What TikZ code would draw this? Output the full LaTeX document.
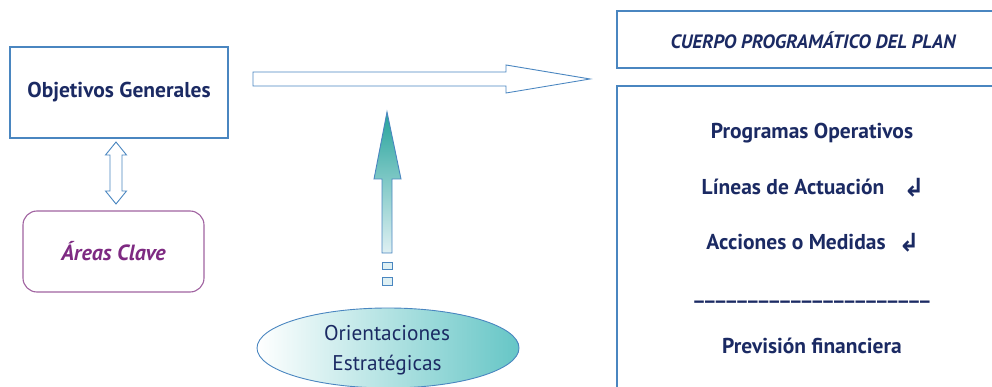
\documentclass[tikz,border=0pt]{standalone}
\usepackage{fontspec}
\setmainfont{PT Sans}
\newfontfamily\symfont{DejaVu Sans}
\usetikzlibrary{shapes.geometric,calc}
\definecolor{navy}{HTML}{1B2A63}
\definecolor{boxblue}{HTML}{4A86C0}
\definecolor{purp}{HTML}{A062A0}
\definecolor{purptext}{HTML}{7E2A82}
\definecolor{tealdark}{HTML}{25A39B}
\definecolor{teallight}{HTML}{DFF0F3}
\definecolor{ellteal}{HTML}{66C6C6}
\newcommand{\us}{\_\kern1.2pt}
\begin{document}
\begin{tikzpicture}[x=1pt,y=-1pt,
  outl/.style={draw=boxblue,line width=1.1pt},
  bigtxt/.style={text=navy,font=\fontsize{21.5}{25}\selectfont\bfseries,inner sep=0pt},
  arrowsym/.style={text=navy,font=\symfont\fontsize{25}{28}\selectfont\bfseries,inner sep=0pt}]
\useasboundingbox (0,0) rectangle (992,387);
% left boxes
\node[outl,minimum width=218pt,minimum height=91pt,inner sep=0pt] (obj) at (119,92.5) {};
\node[bigtxt] (objt) at (obj.center) {Objetivos Generales};
\node[draw=purp,line width=1.1pt,rounded corners=14pt,minimum width=181pt,minimum height=81pt,inner sep=0pt] (areas) at (113.5,251.5) {};
\node[text=purptext,font=\fontsize{22}{25}\selectfont\bfseries\itshape,inner sep=0pt] (areast) at (areas.center) {Áreas Clave};
% double arrow between obj and areas
\coordinate (da) at (116,142);
\coordinate (db) at (116,204);
\draw[outl,line width=0.9pt,fill=white] (da) -- ++(10.5,13) -- ++(-4.5,0) -- ($(db)+(6,-13)$) -- ++(4.5,0) -- (db) -- ++(-10.5,-13) -- ++(4.5,0) -- ($(da)+(-6,13)$) -- ++(-4.5,0) -- cycle;
% right block arrow
\coordinate (ra) at (253,79);
\coordinate (rb) at (590,79);
\draw[outl,line width=0.9pt] ($(ra)+(0,-7)$) -- ($(rb)+(-84,-7)$) -- ($(rb)+(-84,-14)$) -- (rb) -- ($(rb)+(-84,14)$) -- ($(rb)+(-84,7)$) -- ($(ra)+(0,7)$) -- cycle;
% ellipse
\node[ellipse,draw=boxblue,line width=0.9pt,left color=white,right color=ellteal,minimum width=262pt,minimum height=80pt,inner sep=0pt] (ell) at (388,348) {};
\node[text=navy,font=\fontsize{21.3}{30}\selectfont,align=center,inner sep=0pt] (ellt) at (387,350) {Orientaciones\\Estratégicas};
% up arrow
\coordinate (ua) at (387,112);
\coordinate (ub) at (387,253);
\path[draw=boxblue,line width=0.9pt,top color=tealdark,bottom color=teallight]
  (ua) -- ++(14,67) -- ++(-9,0) -- ($(ub)+(5,0)$) -- ($(ub)+(-5,0)$) -- ++(0,-74) -- ++(-8,0) -- cycle;
\node[draw=boxblue,line width=0.9pt,fill=teallight,minimum width=10pt,minimum height=7pt,inner sep=0pt] (sq1) at (387,265.5) {};
\node[draw=boxblue,line width=0.9pt,fill=teallight,minimum width=10pt,minimum height=8pt,inner sep=0pt] (sq2) at (387,281) {};
% right side
\coordinate (c1) at (617,11);
\coordinate (c2) at (617,68);
\draw[outl] (992,11) -- (c1) -- (c2) -- (992,68);
\node[text=navy,font=\fontsize{19.3}{22}\selectfont\bfseries\itshape,inner sep=0pt] (cuerpo) at (813,40) {CUERPO PROGRAMÁTICO DEL PLAN};
\coordinate (c3) at (617,86);
\draw[outl] (617,387) -- (c3) -- (992,86);
\node[bigtxt] (prog) at (812,133) {Programas Operativos};
\node[bigtxt] (lin) at (793,187) {Líneas de Actuación};
\node[arrowsym] (lina) at (914,188) {↲};
\node[bigtxt] (acc) at (796,242) {Acciones o Medidas};
\node[arrowsym] (acca) at (909,243) {↲};
\node[bigtxt] (dash) at (812,301) {\us\us\us\us\us\us\us\us\us\us\us\us\us\us\us\us\us\us\us\us\us\_};
\node[bigtxt] (prev) at (812,346) {Previsión financiera};
\end{tikzpicture}
\end{document}
